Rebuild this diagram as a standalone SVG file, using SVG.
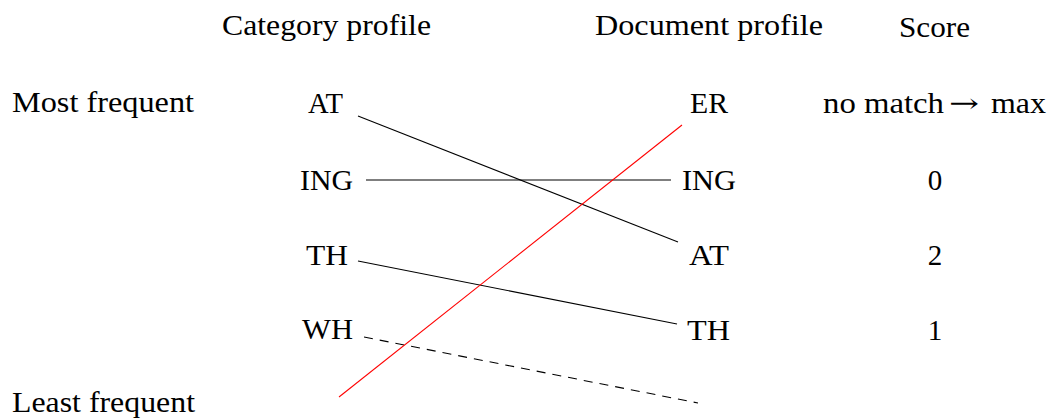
<svg xmlns="http://www.w3.org/2000/svg" width="1054" height="419" viewBox="0 0 1054 419">
<style>
text { font-family: "Liberation Serif", "DejaVu Serif", serif; font-size: 29px; fill: #000; }
.m { text-anchor: middle; }
.arr { font-family: "DejaVu Serif", serif; font-size: 26px; }
.c { stroke: #000; stroke-width: 1.1; fill: none; }
.red { stroke: #ff0000; }
.dash { stroke-dasharray: 9 7; }
</style>
<rect width="1054" height="419" fill="#fff"/>
<g id="headers">
  <text id="h-cat" x="222" y="35" textLength="209" lengthAdjust="spacingAndGlyphs">Category profile</text>
  <text id="h-doc" x="595" y="35" textLength="228" lengthAdjust="spacingAndGlyphs">Document profile</text>
  <text id="h-score" x="899" y="37" textLength="71" lengthAdjust="spacingAndGlyphs">Score</text>
</g>
<g id="side-labels">
  <text id="most" x="12" y="112" textLength="182" lengthAdjust="spacingAndGlyphs">Most frequent</text>
  <text id="least" x="12" y="412" textLength="183" lengthAdjust="spacingAndGlyphs">Least frequent</text>
</g>
<g id="cat-AT"><text x="308" y="113" textLength="35" lengthAdjust="spacingAndGlyphs">AT</text></g>
<g id="cat-ING"><text x="300" y="190" textLength="53" lengthAdjust="spacingAndGlyphs">ING</text></g>
<g id="cat-TH"><text x="306" y="265" textLength="42" lengthAdjust="spacingAndGlyphs">TH</text></g>
<g id="cat-WH"><text x="302" y="339" textLength="51" lengthAdjust="spacingAndGlyphs">WH</text></g>
<g id="doc-ER"><text x="690" y="113" textLength="38" lengthAdjust="spacingAndGlyphs">ER</text></g>
<g id="doc-ING"><text x="682" y="190" textLength="54" lengthAdjust="spacingAndGlyphs">ING</text></g>
<g id="doc-AT"><text x="689" y="265" textLength="40" lengthAdjust="spacingAndGlyphs">AT</text></g>
<g id="doc-TH"><text x="687" y="340" textLength="43" lengthAdjust="spacingAndGlyphs">TH</text></g>
<g id="score-ER">
  <text x="823" y="113" textLength="121" lengthAdjust="spacingAndGlyphs">no match</text>
  <text class="arr" x="949" y="112" textLength="30" lengthAdjust="spacingAndGlyphs">→</text>
  <text x="991" y="113" textLength="55" lengthAdjust="spacingAndGlyphs">max</text>
</g>
<g id="score-ING"><text class="m" x="935" y="190">0</text></g>
<g id="score-AT"><text class="m" x="935" y="265">2</text></g>
<g id="score-TH"><text class="m" x="935" y="340">1</text></g>
<g id="connectors">
  <line class="c" x1="358" y1="116" x2="678" y2="242"/>
  <line class="c" x1="366" y1="180" x2="671" y2="180"/>
  <line class="c" x1="358" y1="261" x2="677" y2="324"/>
  <line class="c dash" x1="364" y1="337" x2="698" y2="403"/>
  <line class="c red" x1="682" y1="125" x2="339" y2="397"/>
</g>
</svg>
